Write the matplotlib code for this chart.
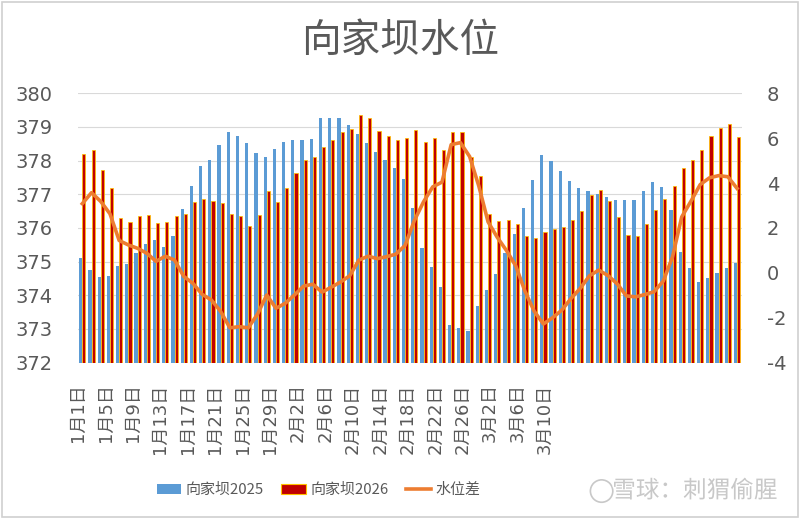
import numpy as np
import matplotlib
matplotlib.use("Agg")
import matplotlib.pyplot as plt
from matplotlib.patches import Patch, Rectangle, Ellipse
from matplotlib.lines import Line2D
import matplotlib.patheffects as pe

plt.rcParams['font.family'] = ['Noto Sans CJK SC', 'DejaVu Sans']
plt.rcParams['axes.unicode_minus'] = False

# ---- data ----
tick_labels = ["1月1日", "1月5日", "1月9日", "1月13日", "1月17日", "1月21日", "1月25日",
               "1月29日", "2月2日", "2月6日", "2月10日", "2月14日", "2月18日", "2月22日",
               "2月26日", "3月2日", "3月6日", "3月10日"]

level_2025 = [375.12, 374.75, 374.53, 374.56, 374.86, 374.93, 375.25, 375.52, 375.64, 375.43,
              375.77, 376.57, 377.24, 377.83, 378.01, 378.45, 378.86, 378.74, 378.52, 378.23,
              378.10, 378.35, 378.55, 378.61, 378.61, 378.63, 379.25, 379.25, 379.25, 379.06,
              378.79, 378.52, 378.25, 378.01, 377.78, 377.46, 376.59, 375.39, 374.83, 374.26,
              373.13, 373.04, 372.94, 373.69, 374.15, 374.64, 375.25, 375.81, 376.59, 377.42,
              378.16, 377.98, 377.69, 377.39, 377.18, 377.10, 377.02, 376.92, 376.82, 376.82,
              376.83, 377.10, 377.36, 377.22, 376.53, 375.28, 374.82, 374.38, 374.50, 374.65,
              374.80, 374.95]

level_2026 = [378.20, 378.32, 377.71, 377.19, 376.30, 376.17, 376.34, 376.39, 376.15, 376.17,
              376.34, 376.41, 376.77, 376.87, 376.80, 376.73, 376.41, 376.34, 376.07, 376.39,
              377.11, 376.77, 377.19, 377.62, 378.02, 378.12, 378.39, 378.61, 378.84, 378.93,
              379.36, 379.26, 378.88, 378.73, 378.61, 378.68, 378.91, 378.55, 378.66, 378.30,
              378.84, 378.84, 378.12, 377.55, 376.42, 376.22, 376.24, 376.12, 375.77, 375.71,
              375.88, 375.98, 376.03, 376.25, 376.49, 376.97, 377.14, 376.80, 376.33, 375.79,
              375.76, 376.13, 376.52, 376.85, 377.24, 377.77, 378.01, 378.31, 378.73, 378.98,
              379.08, 378.71]

level_diff = [3.08, 3.57, 3.18, 2.63, 1.44, 1.24, 1.09, 0.87, 0.51, 0.74,
              0.57, -0.16, -0.47, -0.96, -1.21, -1.72, -2.45, -2.40, -2.45, -1.84,
              -0.99, -1.58, -1.36, -0.99, -0.59, -0.51, -0.86, -0.64, -0.41, -0.13,
              0.57, 0.74, 0.63, 0.72, 0.83, 1.22, 2.32, 3.16, 3.83, 4.04,
              5.71, 5.80, 5.18, 3.86, 2.27, 1.58, 0.99, 0.31, -0.82, -1.71,
              -2.28, -2.00, -1.66, -1.14, -0.69, -0.13, 0.12, -0.12, -0.49, -1.03,
              -1.07, -0.97, -0.84, -0.37, 0.71, 2.49, 3.19, 3.93, 4.23, 4.33,
              4.28, 3.76]

series_names = ["向家坝2025", "向家坝2026", "水位差"]

# ---- styles ----
c_blue = '#5B9BD5'
c_red = '#C00000'
c_edge = '#FFC000'
c_line = '#ED7D31'
c_text = '#595959'
c_grid = '#D9D9D9'

fig = plt.figure(figsize=(8, 5.18), dpi=100)
ax = fig.add_axes([0.0971, 0.300, 0.830, 0.520])
ax2 = ax.twinx()

x = np.arange(len(level_2025))
w = 0.34
ax.bar(x - w / 2, level_2025, width=w, color=c_blue, linewidth=0, zorder=2)
ax.bar(x + w / 2, level_2026, width=w, color=c_red, edgecolor=c_edge, linewidth=0.55, zorder=2)

ax.set_ylim(372, 380)
ax.set_yticks(np.arange(372, 381, 1))
ax.set_xlim(-0.5, len(x) - 0.5)
ax.grid(axis='y', color=c_grid, linewidth=0.8)
ax.set_axisbelow(True)

ax2.plot(x, level_diff, color=c_line, linewidth=2.6, solid_joinstyle='round', zorder=3)
ax2.set_ylim(-4, 8)
ax2.set_yticks(np.arange(-4, 9, 2))

for a in (ax, ax2):
    for s in a.spines.values():
        s.set_visible(False)

ax.tick_params(axis='y', length=0, pad=18, labelsize=14, labelcolor=c_text)
ax2.tick_params(axis='y', length=0, pad=18, labelsize=14, labelcolor=c_text)
for lab in ax.get_yticklabels() + ax2.get_yticklabels():
    lab.set_fontfamily(['DejaVu Sans'])

tick_pos = np.arange(len(tick_labels)) * 2.979 - 0.47
ax.set_xticks(tick_pos)
ax.set_xticklabels(tick_labels, rotation=90, ha='center', va='top',
                   family=['DejaVu Sans', 'Noto Sans CJK SC'])
ax.tick_params(axis='x', length=0, pad=15, labelsize=13, labelcolor=c_text)

fig.text(0.5, 0.921, "向家坝水位", ha='center', va='center', fontsize=28.5, color=c_text)

handles = [Patch(facecolor=c_blue, edgecolor='none'),
           Patch(facecolor=c_red, edgecolor=c_edge, linewidth=0.8),
           Line2D([0], [0], color=c_line, linewidth=2.6)]
fig.legend(handles, series_names, loc='center', bbox_to_anchor=(0.398, 0.054), ncol=3,
           frameon=False, fontsize=10.8, handlelength=1.65, handleheight=0.7,
           handletextpad=0.3, columnspacing=1.15, labelcolor=c_text)

# watermark
fig.add_artist(Ellipse((0.752, 0.052), 0.028, 0.028 * 800 / 518, transform=fig.transFigure,
                       fill=False, edgecolor='#c8c8c8', linewidth=1.2, zorder=10))
fig.text(0.972, 0.052, "雪球：刺猬偷腥", ha='right', va='center', fontsize=17,
         color='#c8c8c8', zorder=10,
         path_effects=[pe.withStroke(linewidth=2, foreground='white')])

# outer border
fig.add_artist(Rectangle((0.002, 0.002), 0.995, 0.995, transform=fig.transFigure,
                         fill=False, edgecolor='#D0D0D0', linewidth=1.2))

fig.savefig("out.png", dpi=100)
